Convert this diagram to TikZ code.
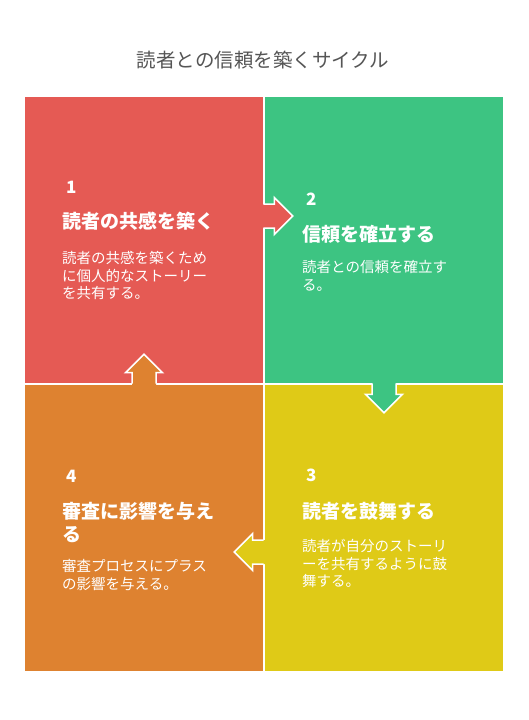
\documentclass[tikz,border=0pt]{standalone}
\usepackage{fontspec}
\setmainfont{Noto Sans CJK JP}
\usetikzlibrary{calc}
\definecolor{redq}{HTML}{E55A54}
\definecolor{greenq}{HTML}{3DC482}
\definecolor{yellowq}{HTML}{DFCA17}
\definecolor{orangeq}{HTML}{DE8230}
\definecolor{titlegray}{HTML}{555555}
\tikzset{
  quad/.style={inner sep=0pt, draw=none, minimum width=238pt, minimum height=286pt},
  arrowfill/.style={fill=#1, draw=none},
  arrowline/.style={draw=white, line width=1.5pt, line join=miter},
  numlabel/.style={anchor=base west, inner sep=0pt, text=white, font=\fontsize{17}{20}\selectfont\bfseries},
  headlabel/.style={anchor=base west, inner sep=0pt, text=white, text width=175pt, align=left,
    font=\fontsize{19}{23}\selectfont\bfseries},
  desclabel/.style={anchor=base west, inner sep=0pt, text=white, text width=175pt, align=left,
    font=\fontsize{14.5}{17.5}\selectfont}
}
% block arrow: tip, rotation, colour
\newcommand{\cyclearrow}[3]{%
  \fill[arrowfill=#3, shift={(#1)}, rotate=#2]
    (-36,-12) -- (-18.5,-12) -- (-18.5,-18.5) -- (0,0) -- (-18.5,18.5) -- (-18.5,12) -- (-36,12) -- cycle;
  \draw[arrowline, shift={(#1)}, rotate=#2]
    (-29.5,-12) -- (-18.5,-12) -- (-18.5,-18.5) -- (0,0) -- (-18.5,18.5) -- (-18.5,12) -- (-29.5,12);}
\begin{document}
\begin{tikzpicture}[x=1pt, y=-1pt]
  \fill[white] (0,0) rectangle (528,720);
  \useasboundingbox (0,0) rectangle (528,720);
  \node[anchor=base, inner sep=0pt, text=titlegray, font=\fontsize{19.5}{23}\selectfont]
    (title) at (263,67) {読者との信頼を築くサイクル};
  % quadrants
  \node[quad, fill=redq] (q1) at (144,240) {};
  \node[quad, fill=greenq] (q2) at (384,240) {};
  \node[quad, fill=yellowq] (q3) at (384,528) {};
  \node[quad, fill=orangeq] (q4) at (144,528) {};
  % arrows between steps
  \coordinate (t12) at ($(q2.west)+(28,-24)$);
  \coordinate (t23) at ($(q3.north)+(0,28)$);
  \coordinate (t34) at ($(q4.east)+(-29,24)$);
  \coordinate (t41) at ($(q1.south)+(0,-29)$);
  \cyclearrow{t12}{0}{redq}
  \cyclearrow{t23}{-90}{greenq}
  \cyclearrow{t34}{180}{yellowq}
  \cyclearrow{t41}{90}{orangeq}
  % step 1
  \node[numlabel] (n1) at (66,193.5) {1};
  \node[headlabel] (h1) at (62,228) {読者の共感を築く};
  \node[desclabel] (d1) at (62,263.5) {読者の共感を築くため\\に個人的なストーリー\\を共有する。};
  % step 2
  \node[numlabel] (n2) at (306,205.5) {2};
  \node[headlabel] (h2) at (302,241) {信頼を確立する};
  \node[desclabel] (d2) at (302,272.5) {読者との信頼を確立す\\る。};
  % step 3
  \node[numlabel] (n3) at (306,481.5) {3};
  \node[headlabel] (h3) at (302,518) {読者を鼓舞する};
  \node[desclabel] (d3) at (302,551.5) {読者が自分のストーリ\\ーを共有するように鼓\\舞する。};
  % step 4
  \node[numlabel] (n4) at (66,482.5) {4};
  \node[headlabel] (h4) at (62,518) {審査に影響を与え\\る};
  \node[desclabel] (d4) at (62,571.5) {審査プロセスにプラス\\の影響を与える。};
\end{tikzpicture}
\end{document}
